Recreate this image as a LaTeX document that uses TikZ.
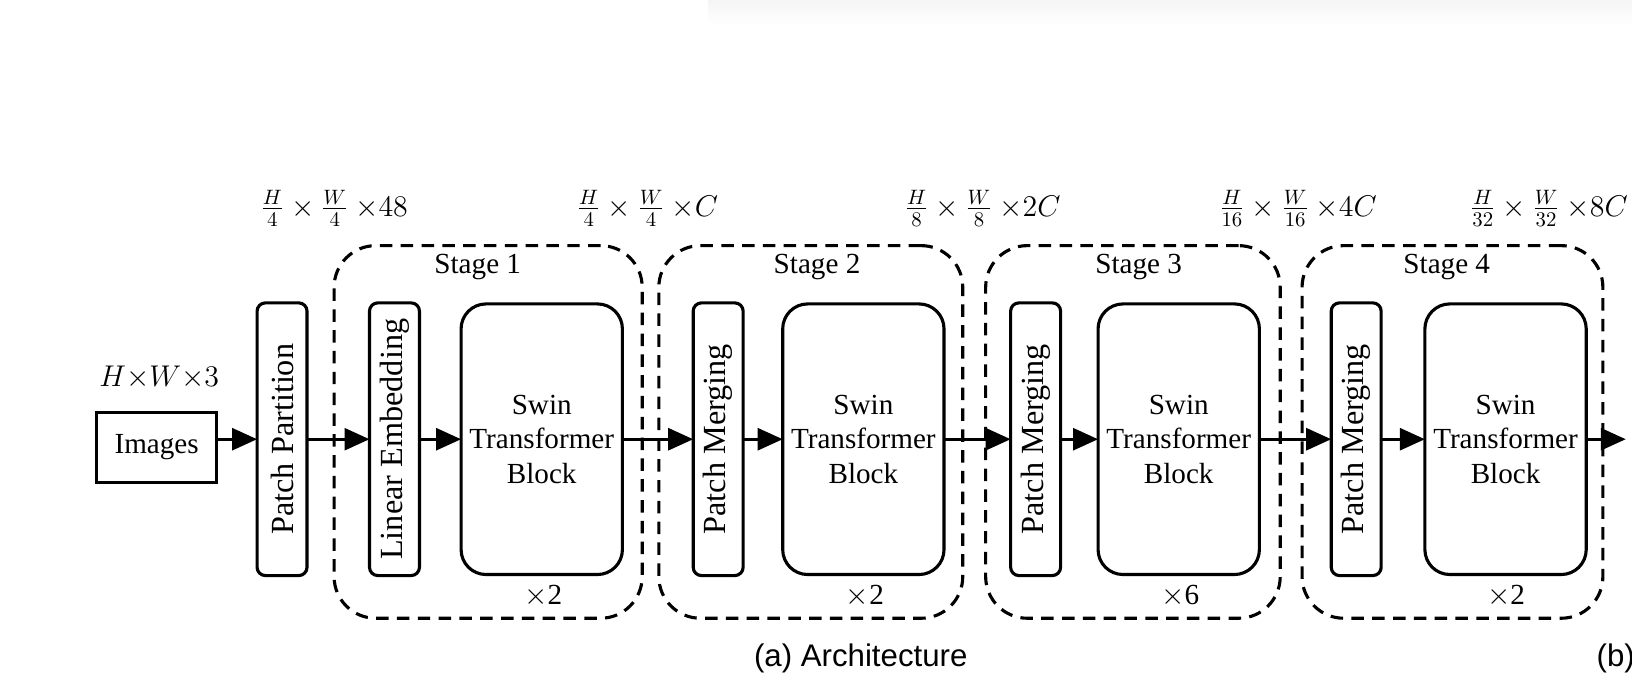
\documentclass[tikz,border=0pt]{standalone}
\usepackage{fontspec}
\usepackage{graphicx}
\setmainfont{Liberation Serif}
\newfontfamily\capfont{Liberation Sans}
\usetikzlibrary{arrows.meta}
\begin{document}
\begin{tikzpicture}[x=0.5pt,y=-0.5pt,
  every node/.style={inner sep=0pt,outer sep=0pt},
  txt/.style={font=\fontsize{14}{16.5}\selectfont},
  rtxt/.style={font=\fontsize{15.5}{18}\selectfont},
  thin box/.style={draw,line width=1.5pt,rounded corners=4pt,minimum width=24pt,minimum height=131pt,rtxt},
  swin/.style={draw,line width=1.5pt,rounded corners=12pt,minimum width=77.5pt,minimum height=130pt,align=center,txt},
  stage/.style={draw,line width=1.5pt,rounded corners=20pt,dash pattern=on 6pt off 4pt,minimum height=179pt},
  arr/.style={line width=1.5pt,-{Triangle[length=12pt,width=10.5pt]}},
  dim/.style={font=\fontsize{14}{16}\selectfont},
  captext/.style={font=\capfont\fontsize{15}{18}\selectfont}
]
\useasboundingbox (0,0) rectangle (1568,651);
\begin{scope}
\clip (0,0) rectangle (1568,651);
\shade[top color=black!4,bottom color=white] (680,0) rectangle (1568,24);
\end{scope}
% stages
\node[stage,minimum width=148pt] (s1) at (469,415) {};
\node[stage,minimum width=146pt] (s2) at (779,415) {};
\node[stage,minimum width=141.5pt] (s3) at (1088.5,415) {};
\node[stage,minimum width=144.5pt] (s4) at (1395.5,415) {};
\node[txt] (s1t) at (459,257) {Stage 1};
\node[txt] (s2t) at (785,257) {Stage 2};
\node[txt] (s3t) at (1094,257) {Stage 3};
\node[txt] (s4t) at (1390,257) {Stage 4};
% images
\node[draw,line width=1.5pt,minimum width=57.5pt,minimum height=34pt,txt] (img) at (150.5,430) {Images};
\node[font=\fontsize{14.5}{16}\selectfont,anchor=south] (imgd) at (153,374) {$H{\times}W{\times}3$};
% blocks
\node[thin box] (pp) at (271,422) {\rotatebox{90}{Patch Partition}};
\node[thin box] (le) at (379,422) {\rotatebox{90}{Linear Embedding}};
\node[swin] (sw1) at (520.5,422) {Swin\\Transformer\\Block};
\node[thin box] (pm2) at (690,422) {\rotatebox{90}{Patch Merging}};
\node[swin] (sw2) at (829.5,422) {Swin\\Transformer\\Block};
\node[thin box] (pm3) at (995,422) {\rotatebox{90}{Patch Merging}};
\node[swin] (sw3) at (1132.5,422) {Swin\\Transformer\\Block};
\node[thin box] (pm4) at (1303,422) {\rotatebox{90}{Patch Merging}};
\node[swin] (sw4) at (1446.5,422) {Swin\\Transformer\\Block};
\coordinate (out) at (1562,422);
% repeat counts
\node[txt] (r1) at (522,573) {$\times$2};
\node[txt] (r2) at (831,573) {$\times$2};
\node[txt] (r3) at (1134,573) {$\times$6};
\node[txt] (r4) at (1447,573) {$\times$2};
% dims
\node[dim] (d1) at (321,200) {$\frac{H}{4}\times\frac{W}{4}\mskip\medmuskip{\times}48$};
\node[dim] (d2) at (622,200) {$\frac{H}{4}\times\frac{W}{4}\mskip\medmuskip{\times}C$};
\node[dim] (d3) at (944,200) {$\frac{H}{8}\times\frac{W}{8}\mskip\medmuskip{\times}2C$};
\node[dim] (d4) at (1247,200) {$\frac{H}{16}\times\frac{W}{16}\mskip\medmuskip{\times}4C$};
\node[dim] (d5) at (1488,200) {$\frac{H}{32}\times\frac{W}{32}\mskip\medmuskip{\times}8C$};
% arrows
\draw[arr] (img.east |- pp.center) -- (pp.west);
\draw[arr] (pp.east) -- (le.west);
\draw[arr] (le.east) -- (sw1.west);
\draw[arr] (sw1.east) -- (pm2.west);
\draw[arr] (pm2.east) -- (sw2.west);
\draw[arr] (sw2.east) -- (pm3.west);
\draw[arr] (pm3.east) -- (sw3.west);
\draw[arr] (sw3.east) -- (pm4.west);
\draw[arr] (pm4.east) -- (sw4.west);
\draw[arr] (sw4.east) -- (out);
% captions
\node[captext] (capa) at (827,633) {(a) Architecture};
\node[captext,anchor=west] (capb) at (1534,633) {(b)};
\end{tikzpicture}
\end{document}
